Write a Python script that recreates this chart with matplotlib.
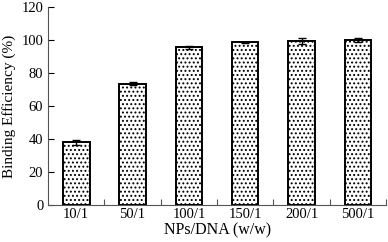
import matplotlib
matplotlib.use("Agg")
import matplotlib.pyplot as plt
import numpy as np

categories = ["10/1", "50/1", "100/1", "150/1", "200/1", "500/1"]
efficiency = [38.0, 73.5, 95.5, 98.5, 99.5, 100.0]
errors = [1.5, 1.0, 1.0, 0.5, 2.0, 1.5]

plt.rcParams['font.family'] = ['Liberation Serif', 'DejaVu Serif']
plt.rcParams['hatch.linewidth'] = 0.9

fig = plt.figure(figsize=(3.88, 2.42), dpi=100)
ax = fig.add_axes([0.124, 0.153, 0.871, 0.818])

x = np.arange(len(categories))
ax.bar(x, efficiency, width=0.47, color='white', edgecolor='black',
       linewidth=1.4, hatch='....', yerr=errors,
       error_kw=dict(ecolor='black', elinewidth=1.0, capsize=3, capthick=1.0))

ax.set_xlim(-0.5, len(categories) - 0.5)
ax.set_ylim(0, 120)
ax.set_yticks(range(0, 121, 20))
ax.set_xticks(x)
ax.set_xticklabels(categories)
ax.set_xticks(np.arange(0.5, len(categories), 1.0), minor=True)
ax.tick_params(axis='x', which='major', length=0, labelsize=10.5, pad=2)
ax.tick_params(axis='x', which='minor', direction='in', length=4, width=0.8, color='#555555')
ax.tick_params(axis='y', direction='in', length=4, width=0.8, labelsize=10.5)

for s in ['top', 'right']:
    ax.spines[s].set_visible(False)
for s in ['left', 'bottom']:
    ax.spines[s].set_linewidth(0.8)
    ax.spines[s].set_color('#555555')

ax.set_xlabel("NPs/DNA (w/w)", fontsize=11.5, labelpad=1)
ax.set_ylabel("Binding Efficiency (%)", fontsize=11, labelpad=4)

fig.savefig("out.png", dpi=100)
